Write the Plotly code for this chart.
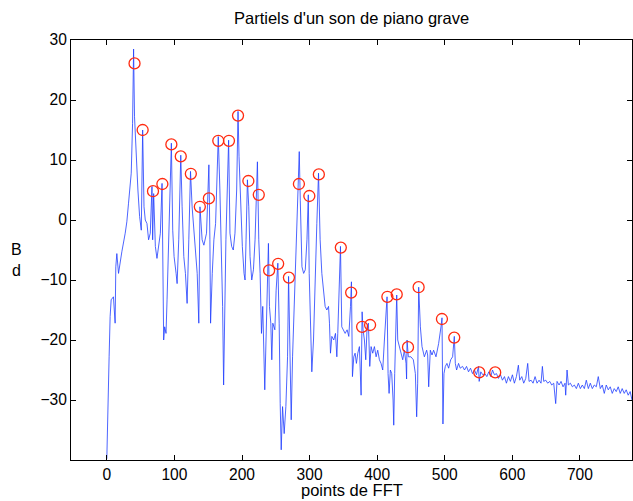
import plotly.graph_objects as go

# Spectrum vertices (FFT bin, dB)
spec_x = [0, 1, 2, 3.4, 4.9, 6.4, 9.8, 12.3, 13.3, 14.8, 17.3, 19.7, 22.2, 27.2, 29.6, 32.1, 36.1, 38.1, 39.6, 41,
          43, 46, 48.5, 51, 53, 55, 56.9, 59.4, 61.8, 64.3, 66.8, 67.8, 69.3, 71.8, 74.2, 76.7, 79.2, 81.7, 83.1, 84.1,
          85.6, 87.6, 89.1, 91.6, 95.5, 97.5, 99.5, 102.5, 104, 106.4, 109.4, 111.4, 113.9, 116.3, 118.8, 121.3, 123.8, 126.2, 131.2, 133.7,
          136.1, 137.8, 141, 143.6, 147.5, 149.5, 151, 152.5, 153.5, 156, 158.4, 160.9, 163.4, 164.9, 167.3, 169.3, 171.3, 172.8, 174.3, 176.2,
          178.2, 180.2, 182.2, 184.7, 187.1, 189.6, 192.1, 194.1, 195.6, 198, 200.5, 203, 204.5, 206, 208, 210, 211.9, 214.4, 216.9, 219.3,
          222.8, 224.8, 226.8, 228.8, 230.7, 233.7, 235.7, 237.7, 239.1, 240.6, 242.6, 244.1, 245.6, 248.6, 250.5, 253, 255, 256.5, 258, 260,
          262.4, 264.9, 267.4, 268.9, 270.8, 272.8, 274.8, 277.3, 279.7, 282.2, 284.7, 286.2, 288.7, 291.2, 293.6, 296.1, 298.1, 299.4, 301.4, 303.3,
          305.8, 308.3, 310.7, 313.2, 315.6, 318.1, 320.6, 323, 325.5, 328, 329.4, 330.9, 332.9, 335.8, 338.3, 340.3, 341.7, 343.7, 345.7, 347.6,
          350.1, 352.6, 355.5, 358, 360.5, 361.9, 363.4, 365.4, 367.3, 369.3, 371.3, 373.7, 376.2, 377.7, 379.1, 381.1, 383.1, 385.1, 387, 389,
          391, 393.4, 395.9, 398.4, 400.8, 403.3, 405.7, 408.2, 410.7, 412.6, 414.6, 416.1, 417.6, 419.5, 421.5, 423.5, 424.5, 425.9, 427.4, 428.9,
          430.4, 432.8, 435.3, 437.8, 440.2, 442.7, 443.5, 444.2, 446.1, 450, 453.5, 456.5, 458.4, 459.9, 461.4, 463.9, 466.3, 469.8, 473.2, 474.7,
          476.2, 478.6, 481.1, 483.5, 487, 490.9, 494.4, 495.9, 497.3, 498.8, 500.8, 503.2, 505.7, 508.7, 511.6, 514.1, 515.6, 517.5, 520.4, 522.8,
          526.3, 529.2, 532.2, 535.1, 538.1, 541, 544, 546.9, 549.9, 550.9, 553.3, 556.3, 559.3, 562.2, 565.2, 568.1, 570.6, 573.5, 576.5, 579.4,
          582.4, 585.3, 588.3, 591.2, 594.2, 597.1, 600.1, 603, 606, 608.9, 610.9, 613.9, 616.8, 619.8, 622.7, 624.7, 627.7, 630.6, 633.6, 636.5,
          639.5, 642.4, 644.4, 646.4, 649.4, 652.3, 655.3, 658.2, 661.2, 664.1, 666.1, 669.1, 672, 675, 677.9, 678.9, 680.9, 682.9, 685.8, 688.8,
          691.7, 694.7, 697.6, 700.6, 703.5, 706.5, 709.4, 712.4, 715.3, 718.3, 721.2, 724.2, 727.1, 730.1, 733, 736, 738.9, 741.9, 744.8, 747.8,
          750.7, 753.7, 756.6, 759.6, 762.5, 765.5, 768.4, 771.4, 774.3, 777]
spec_db = [-39.8, -33.9, -26.1, -22.8, -16.1, -13.3, -12.8, -17.2, -7.8, -5.6, -8.9, -6.7, -5.3, -2.2, -0.3, 2.8, 7.8, 16.1, 28.5, 17.2,
           11.7, 5, 0.6, -1.7, 15, 2.2, 0, -0.6, -3.3, -2.2, 5.6, -3.3, 4.4, -4.4, -6.4, -3.9, -2.2, 6.1, -8.9, -20,
           -17.8, -18.9, -13.3, -3.3, 12.8, -1.7, -6.1, -8.9, -10.6, -3.3, 10.8, 2.2, -6.1, -8.9, -13.9, -3.3, 8.1, 2.2, -5.6, -8.9,
           -17.2, 2.2, -3.3, -4.2, -2.2, 4.4, 9.2, -3.3, -17.2, -8.9, -3.3, -0.6, 7.8, 13.9, 5, -3.3, -14.4, -27.5, -14.4, -3.3,
           5, 13.3, -2.2, -4.4, -5, -2.2, 5, 18.1, 10.6, 2.2, -4.4, -8.9, -10, -3.3, 6.7, 2.2, -6.1, -10, -8.3, -3.3,
           9.7, -3.3, -8.9, -18.9, -14.4, -28.3, -20, -13.3, -3.9, -14.4, -17.2, -23.3, -17.2, -18.3, -11.7, -7.2, -17.2, -30.6, -38.3, -31.1,
           -35.6, -31.1, -22.8, -9.4, -22.8, -33.3, -22.8, -14.4, -3.3, 3.3, 11.4, 3.3, -7.8, -8.9, -8.3, -3.3, 4.2, -8.9, -17.2, -25.3,
           -20, -8.9, -0.6, 7.8, -3.3, -8.9, -12.2, -14.4, -15, -14.4, -17.2, -22.2, -19.4, -20, -18.9, -22.8, -18.9, -8.9, -4.4, -17.8,
           -18.3, -18.9, -18.3, -19.4, -14.4, -10.3, -26.1, -22.8, -22.2, -23.9, -22.2, -21.1, -29.2, -15.3, -18.3, -20, -23.3, -17.8, -17.2, -24.4,
           -21.1, -22.2, -21.1, -22.8, -21.7, -23.3, -23.9, -25, -20, -16.1, -12.8, -25.6, -28.9, -25, -25.6, -30, -34.2, -25.6, -17.2, -12.5,
           -20, -21.1, -22.2, -23.3, -21.7, -23.9, -26.5, -20, -22.8, -22.8, -23.3, -25.6, -32.8, -27.2, -11.2, -17.8, -21.1, -22.8, -21.7, -22.5,
           -27.8, -21.7, -22.5, -21.7, -22.8, -20.6, -17.8, -16.3, -34, -25.6, -24.4, -23.9, -24.7, -23.3, -22.8, -19.4, -23.9, -25, -23.9, -24.7,
           -24.4, -25, -24.4, -25.3, -24.7, -25.6, -25, -25.8, -24.4, -26.9, -25.3, -25.8, -25.6, -26.1, -25.3, -26.1, -25, -25.8, -25.6, -26.4,
           -25.8, -26.7, -26.1, -27.2, -26.1, -26.9, -25.8, -27.2, -26.1, -24.2, -26.7, -26.1, -27.2, -26.4, -23.9, -26.9, -26.7, -27.2, -26.1, -27.2,
           -26.7, -27.2, -24.4, -26.9, -26.7, -27.2, -26.9, -27.5, -27.2, -30.6, -26.9, -27.5, -26.9, -27.8, -27.2, -29.2, -25, -27.5, -27.2, -27.8,
           -27.5, -28.1, -27.2, -28.1, -27.5, -28.1, -26.7, -28.1, -27.2, -28.1, -27.5, -27.8, -26.1, -28.1, -27.5, -28.9, -27.5, -28.3, -27.8, -28.9,
           -28.1, -28.6, -27.8, -28.9, -28.1, -28.9, -28.3, -29.2, -28.6, -30]

# Detected partials (red circles)
peak_x = [41, 53, 68.3, 82.2, 95.5, 109.4, 124.3, 137.6, 151, 164.9, 180.7, 194.1, 209.4, 224.8, 240.1, 253.5,
          269.4, 284.2, 299.6, 313.7, 346.2, 361.5, 377.7, 389.5, 415.1, 428.9, 445.6, 461.3, 495.8, 514, 551, 574.6]
peak_db = [26.1, 15, 4.8, 6, 12.6, 10.6, 7.7, 2.2, 3.6, 13.2, 13.2, 17.4, 6.5, 4.2, -8.4, -7.3,
           -9.6, 6, 4, 7.6, -4.6, -12.1, -17.8, -17.5, -12.8, -12.4, -21.2, -11.2, -16.5, -19.6, -25.4, -25.4]

x_ticks = [0, 100, 200, 300, 400, 500, 600, 700]
y_ticks = [-30, -20, -10, 0, 10, 20, 30]

title_text = "Partiels d'un son de piano grave"
xlabel_text = "points de FFT"
ylabel_text = "B<br>d"

FONT = "Liberation Sans, Arial, Helvetica, sans-serif"

fig = go.Figure()
fig.add_trace(go.Scatter(x=spec_x, y=spec_db, mode="lines",
                         line=dict(color="#1f3dff", width=0.8), hoverinfo="skip"))
fig.add_trace(go.Scatter(x=peak_x, y=peak_db, mode="markers",
                         marker=dict(symbol="circle-open", size=11, color="#ff2a10",
                                     line=dict(width=1.3, color="#ff2a10"))))

axis_common = dict(showline=True, linecolor="black", linewidth=1, mirror="ticks",
                   ticks="inside", ticklen=5, tickcolor="black", tickwidth=1,
                   showgrid=False, zeroline=False,
                   tickfont=dict(family=FONT, size=15.6, color="black"))

fig.update_layout(
    width=633, height=501,
    margin=dict(l=71, r=1, t=40, b=41),
    paper_bgcolor="white", plot_bgcolor="white",
    showlegend=False,
    font=dict(family=FONT, size=15.6, color="black"),
    xaxis=dict(range=[-53, 777], tickvals=x_ticks, **axis_common),
    yaxis=dict(range=[-40, 30], tickvals=y_ticks, **axis_common),
    annotations=[
        dict(text=title_text, xref="paper", yref="paper", x=0.5, y=1 + 22 / 420,
             xanchor="center", yanchor="middle", showarrow=False,
             font=dict(family=FONT, size=16.5, color="black")),
        dict(text=xlabel_text, xref="paper", yref="paper", x=0.5, y=-30 / 420,
             xanchor="center", yanchor="middle", showarrow=False,
             font=dict(family=FONT, size=16.5, color="black")),
        dict(text=ylabel_text, xref="paper", yref="paper", x=-55 / 561, y=(460 - 260) / 420,
             xanchor="center", yanchor="middle", showarrow=False,
             font=dict(family=FONT, size=16, color="black")),
    ],
)

fig.write_html("out.html")
